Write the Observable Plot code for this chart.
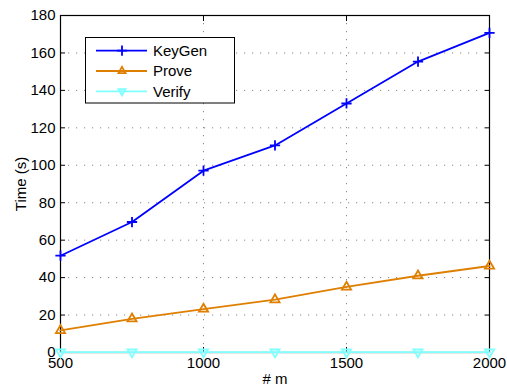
<!DOCTYPE html>
<html><head><meta charset="utf-8">
<script src="https://cdn.jsdelivr.net/npm/d3@7"></script>
<script src="https://cdn.jsdelivr.net/npm/@observablehq/plot@0.6"></script>
<style>
  body { margin: 0; background: #fff; }
  #chart { width: 507px; height: 387px; }
</style>
</head><body><div id="chart"></div>
<script>
// Benchmark timings (seconds) against the parameter m
const sizes = [500, 750, 1000, 1250, 1500, 1750, 2000];
const keyGen = [51.7, 69.7, 97.1, 110.6, 133.0, 155.4, 170.7];
const prove = [11.8, 18.0, 23.2, 28.2, 35.0, 41.0, 46.2];
const verify = [0.2, 0.2, 0.2, 0.2, 0.2, 0.2, 0.2];
const seriesNames = ["KeyGen", "Prove", "Verify"];
const xTicks = [500, 1000, 1500, 2000];
const yTicks = [0, 20, 40, 60, 80, 100, 120, 140, 160, 180];

const colors = ["#0000ff", "#df7f00", "#7fffff"];
const symbols = ["plus", "triangle", "triangle"];
const rotations = [0, 0, 180];
const seriesValues = [keyGen, prove, verify];

const rows = seriesNames.flatMap((name, s) =>
  sizes.map((m, i) => ({ series: name, m, t: seriesValues[s][i] })));

const font = "'Liberation Sans', Arial, Helvetica, sans-serif";
const gridStyle = { stroke: "#8a8a8a", strokeOpacity: 1, strokeWidth: 1, strokeDasharray: "1.2,6.8" };
const markerR = 3.4;

const marks = [
  Plot.gridX(xTicks, gridStyle),
  Plot.gridY(yTicks, gridStyle),
  Plot.frame({ stroke: "black", strokeWidth: 1.2 }),
  Plot.axisX(xTicks, { anchor: "bottom", tickSize: -5, tickPadding: 10, tickFormat: d3.format("d"), fontSize: 15, label: "# m", labelAnchor: "center", labelArrow: "none", labelOffset: 31 }),
  Plot.axisX(xTicks, { anchor: "top", tickSize: -5, tickFormat: () => "", label: null }),
  Plot.axisY(yTicks, { anchor: "left", tickSize: -5, tickPadding: 10, fontSize: 15, label: "Time (s)", labelAnchor: "center", labelArrow: "none", labelOffset: 45 }),
  Plot.axisY(yTicks, { anchor: "right", tickSize: -5, tickFormat: () => "", label: null })
];
seriesNames.forEach((name, s) => {
  const data = rows.filter(d => d.series === name);
  marks.push(Plot.line(data, { x: "m", y: "t", stroke: colors[s], strokeWidth: 1.8 }));
  marks.push(Plot.dot(data, { x: "m", y: "t", symbol: () => symbols[s], rotate: rotations[s], r: markerR, stroke: colors[s], strokeWidth: 1.8, fill: "none" }));
});

const chart = Plot.plot({
  width: 507, height: 387,
  marginLeft: 60, marginRight: 18, marginTop: 15, marginBottom: 35,
  style: { fontFamily: font, fontSize: "15px", background: "white", color: "black", overflow: "visible" },
  x: { domain: [500, 2000] },
  y: { domain: [0, 180] },
  marks
});
document.getElementById("chart").appendChild(chart);

// Legend box in the upper left of the axes
const svg = d3.select(chart);
const lg = svg.append("g").attr("font-family", font).attr("font-size", 15).attr("text-anchor", "start");
lg.append("rect").attr("x", 85.5).attr("y", 37.5).attr("width", 149).attr("height", 65.5)
  .attr("fill", "white").attr("stroke", "black").attr("stroke-width", 1);
const symbolTypes = { plus: d3.symbolPlus, triangle: d3.symbolTriangle2 };
seriesNames.forEach((name, s) => {
  const y = 50.7 + s * 20.3;
  lg.append("line").attr("x1", 96).attr("x2", 147).attr("y1", y).attr("y2", y)
    .attr("stroke", colors[s]).attr("stroke-width", 1.8);
  lg.append("path").attr("d", d3.symbol(symbolTypes[symbols[s]], Math.PI * markerR * markerR)())
    .attr("transform", `translate(122,${y}) rotate(${rotations[s]})`)
    .attr("fill", "none").attr("stroke", colors[s]).attr("stroke-width", 1.8);
  lg.append("text").attr("x", 153).attr("y", y).attr("dy", "0.35em").text(name);
});
</script>
</body></html>
